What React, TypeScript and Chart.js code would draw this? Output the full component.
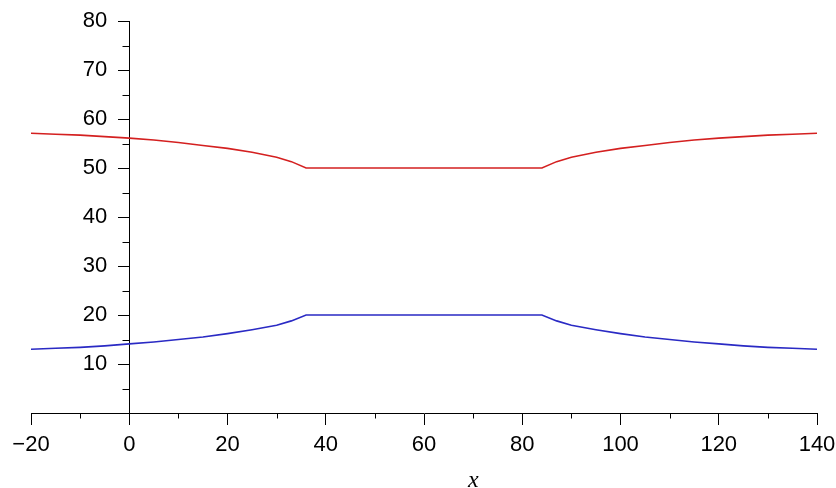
import React, { useEffect, useRef } from "react";
import { Chart, registerables } from "chart.js";

Chart.register(...registerables);

const xValues = [-20, -15, -10, -5, 0, 5, 10, 15, 20, 25, 30, 33, 36, 84, 87, 90, 95, 100, 105, 110, 115, 120, 125, 130, 135, 140];
const upperValues = [57.1, 56.9, 56.7, 56.4, 56.1, 55.7, 55.2, 54.6, 54.0, 53.2, 52.2, 51.3, 50.0, 50.0, 51.3, 52.2, 53.2, 54.0, 54.6, 55.2, 55.7, 56.1, 56.4, 56.7, 56.9, 57.1];
const lowerValues = [13.0, 13.2, 13.4, 13.7, 14.1, 14.5, 15.0, 15.5, 16.2, 17.0, 17.9, 18.8, 20.0, 20.0, 18.8, 17.9, 17.0, 16.2, 15.5, 15.0, 14.5, 14.1, 13.7, 13.4, 13.2, 13.0];
const xMinorTicks = [-10, 10, 30, 50, 70, 90, 110, 130];
const yMinorTicks = [5, 15, 25, 35, 45, 55, 65, 75];
const xTitle = "x";

const axesExtras = {
  id: "axesExtras",
  afterLayout(chart: any) {
    const ys = chart.scales.y;
    const xs = chart.scales.x;
    const x0 = xs.getPixelForValue(0);
    const items = ys.getLabelItems(chart.chartArea);
    items.forEach((it: any) => {
      it.options.translation[0] = x0 - 22;
      it.options.textAlign = "right";
    });
  },
  afterDraw(chart: any) {
    const { ctx, scales } = chart;
    const xs = scales.x;
    const ys = scales.y;
    const y0 = Math.round(ys.getPixelForValue(0)) + 0.5;
    const x0 = Math.round(xs.getPixelForValue(0)) + 0.5;
    ctx.save();
    ctx.strokeStyle = "#000";
    ctx.lineWidth = 1;
    ctx.beginPath();
    xMinorTicks.forEach((v) => {
      const px = Math.round(xs.getPixelForValue(v)) + 0.5;
      ctx.moveTo(px, y0);
      ctx.lineTo(px, y0 + 5);
    });
    yMinorTicks.forEach((v) => {
      const py = Math.round(ys.getPixelForValue(v)) + 0.5;
      ctx.moveTo(x0, py);
      ctx.lineTo(x0 - 7, py);
    });
    ctx.stroke();
    ctx.font = 'italic 24px "Liberation Serif"';
    ctx.fillStyle = "#000";
    ctx.textAlign = "center";
    ctx.textBaseline = "middle";
    ctx.fillText(xTitle, (x0 + xs.getPixelForValue(xs.max)) / 2, y0 + 67);
    ctx.restore();
  },
};

const fmt = (v: any) => (Number(v) < 0 ? "\u2212" + String(Math.abs(Number(v))) : String(v));

export default function App() {
  const ref = useRef<HTMLCanvasElement | null>(null);
  useEffect(() => {
    if (!ref.current) return;
    const tickFont = { family: '"Liberation Sans", Arial, sans-serif', size: 22 };
    const chart = new Chart(ref.current, {
      type: "line",
      data: {
        datasets: [
          {
            data: xValues.map((x, i) => ({ x, y: upperValues[i] })),
            borderColor: "#d42020",
            borderWidth: 1.6,
            pointRadius: 0,
            fill: false,
            tension: 0,
          },
          {
            data: xValues.map((x, i) => ({ x, y: lowerValues[i] })),
            borderColor: "#2a2ac4",
            borderWidth: 1.6,
            pointRadius: 0,
            fill: false,
            tension: 0,
          },
        ],
      },
      options: {
        responsive: false,
        animation: false,
        layout: { padding: { left: 31, right: 19, top: 21, bottom: 75 } },
        plugins: { legend: { display: false }, tooltip: { enabled: false } },
        scales: {
          x: {
            type: "linear",
            position: { y: 0 } as any,
            min: -20,
            max: 140,
            afterFit: (s: any) => {
              s.paddingLeft = 0;
              s.paddingRight = 0;
              s.paddingTop = 0;
              s.paddingBottom = 0;
            },
            ticks: {
              stepSize: 20,
              autoSkip: false,
              maxRotation: 0,
              color: "#000",
              font: tickFont,
              padding: 8,
              callback: fmt,
            },
            grid: { drawOnChartArea: false, drawTicks: true, tickLength: 11, tickColor: "#000", tickWidth: 1 },
            border: { display: true, color: "#000", width: 1 },
          },
          y: {
            type: "linear",
            position: { x: 0 } as any,
            min: 0,
            max: 80,
            afterBuildTicks: (s: any) => {
              s.ticks = s.ticks.filter((t: any) => t.value !== 0);
            },
            afterFit: (s: any) => {
              s.paddingLeft = 0;
              s.paddingRight = 0;
              s.paddingTop = 0;
              s.paddingBottom = 0;
            },
            ticks: {
              stepSize: 10,
              autoSkip: false,
              color: "#000",
              font: tickFont,
              padding: 11,
              callback: fmt,
            },
            grid: { drawOnChartArea: false, drawTicks: true, tickLength: 11, tickColor: "#000", tickWidth: 1 },
            border: { display: true, color: "#000", width: 1 },
          },
        },
      },
      plugins: [axesExtras],
    });
    return () => chart.destroy();
  }, []);
  return (
    <div style={{ position: "absolute", left: 0, top: 0, width: 836, height: 488, background: "#fff" }}>
      <canvas ref={ref} width={836} height={488} />
    </div>
  );
}
